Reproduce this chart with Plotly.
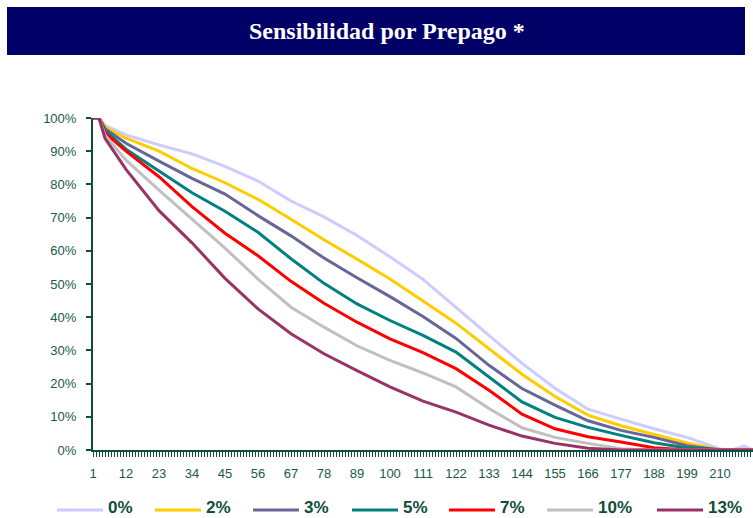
import plotly.graph_objects as go

# Payment period (month) at which each curve value is sampled
periods = [1, 3, 5, 12, 23, 34, 45, 56, 67, 78, 89, 100, 111, 122, 133,
           144, 155, 166, 177, 188, 199, 210, 214, 218, 221]

# Outstanding balance (% of original) under each prepayment speed
prepago_0 = [100, 100, 97.8, 94.9, 91.9, 89.2, 85.4, 81.0, 75.0, 70.2, 64.6, 58.2, 51.4,
             43.0, 34.5, 26.1, 18.6, 12.3, 9.3, 6.4, 3.8, 0.3, 0, 1.2, 0]
prepago_2 = [100, 100, 97.3, 93.9, 90.0, 84.8, 80.5, 75.5, 69.5, 63.3, 57.5, 51.5, 44.9,
             38.2, 30.5, 22.8, 16.1, 10.5, 7.3, 4.8, 2.1, 0, 0, 0, 0]
prepago_3 = [100, 100, 96.8, 92.4, 87.0, 81.8, 77.1, 70.6, 64.5, 57.8, 51.9, 46.2, 40.2,
             33.6, 25.5, 18.5, 13.5, 8.8, 5.9, 3.8, 1.3, 0, 0, 0, 0]
prepago_5 = [100, 100, 96.3, 90.6, 84.0, 77.5, 71.9, 65.6, 57.6, 50.2, 44.0, 39.0, 34.5,
             29.5, 22.0, 14.5, 9.8, 6.8, 4.4, 2.2, 0.6, 0, 0, 0, 0]
prepago_7 = [100, 100, 95.5, 90.0, 82.3, 73.3, 65.3, 58.5, 50.8, 44.2, 38.5, 33.5, 29.3,
             24.5, 18.0, 10.8, 6.4, 4.0, 2.4, 0.7, 0, 0, 0, 0, 0]
prepago_10 = [100, 100, 94.8, 87.3, 78.3, 69.6, 60.8, 51.5, 43.0, 37.0, 31.4, 27.0, 23.2,
              19.0, 12.5, 6.7, 3.8, 2.0, 0.4, 0, 0, 0, 0, 0, 0]
prepago_13 = [100, 100, 93.9, 84.5, 72.1, 62.4, 51.7, 42.5, 35.0, 29.0, 23.9, 19.0, 14.7,
              11.4, 7.5, 4.2, 2.0, 0.5, 0, 0, 0, 0, 0, 0, 0]

series_names = ["0%", "2%", "3%", "5%", "7%", "10%", "13%"]
series_values = [prepago_0, prepago_2, prepago_3, prepago_5, prepago_7, prepago_10, prepago_13]
series_colors = ["#CCCCFF", "#FFCC00", "#666699", "#008080", "#FF0000", "#C0C0C0", "#993366"]

x_tick_vals = [1, 12, 23, 34, 45, 56, 67, 78, 89, 100, 111, 122, 133, 144, 155,
               166, 177, 188, 199, 210, 221]
x_tick_text = ["1", "12", "23", "34", "45", "56", "67", "78", "89", "100", "111", "122",
               "133", "144", "155", "166", "177", "188", "199", "210", "221"]

title_text = "Sensibilidad por Prepago *"

W, H = 753, 518
PL, PR, PT, PB = 93, 753, 118, 450   # plot-area edges in pixels
AXIS_COLOR = "#0f4d3c"
TEXT_COLOR = "#1a5a48"


def px_x(x):
    return (x - PL) / (PR - PL)


def px_y(y):
    return (PB - y) / (PB - PT)


fig = go.Figure()
for name, vals, color in zip(series_names, series_values, series_colors):
    fig.add_trace(go.Scatter(
        x=periods, y=vals, mode="lines", name=name,
        line=dict(color=color, width=3),
        cliponaxis=False, showlegend=False,
    ))

shapes = [
    dict(type="rect", xref="paper", yref="paper",
         x0=px_x(7), x1=px_x(745), y0=px_y(55), y1=px_y(7),
         fillcolor="#000066", line=dict(width=0), layer="below"),
]
annotations = [
    dict(text="<b>%s</b>" % title_text, xref="paper", yref="paper",
         x=px_x(387), y=px_y(31), xanchor="center", yanchor="middle",
         showarrow=False,
         font=dict(family="Liberation Serif", size=24, color="white")),
]

# Legend row along the bottom
legend_starts = [57, 155, 253, 352, 449, 547, 657]
LEG_Y = 507
for name, color, x0 in zip(series_names, series_colors, legend_starts):
    shapes.append(dict(type="line", xref="paper", yref="paper",
                       x0=px_x(x0), x1=px_x(x0 + 46), y0=px_y(LEG_Y + 3), y1=px_y(LEG_Y + 3),
                       line=dict(color=color, width=3)))
    annotations.append(dict(text="<b>%s</b>" % name, xref="paper", yref="paper",
                            x=px_x(x0 + 49), y=px_y(LEG_Y), xanchor="left",
                            yanchor="middle", showarrow=False,
                            font=dict(family="Liberation Sans", size=17,
                                      color=AXIS_COLOR)))

fig.update_layout(
    width=W, height=H,
    margin=dict(l=PL, r=W - PR, t=PT, b=H - PB, pad=0),
    paper_bgcolor="white", plot_bgcolor="white",
    font=dict(family="Liberation Sans", size=13, color=TEXT_COLOR),
    shapes=shapes, annotations=annotations,
    showlegend=False,
)
fig.update_xaxes(
    range=[1, 221], tickmode="array", tickvals=x_tick_vals, ticktext=x_tick_text,
    ticks="outside", ticklen=5, tickwidth=1, tickcolor=AXIS_COLOR,
    minor=dict(ticks="outside", tickmode="linear", tick0=1, dtick=1,
               ticklen=5, tickwidth=1, tickcolor=AXIS_COLOR),
    showline=True, linecolor=AXIS_COLOR, linewidth=2,
    showgrid=False, zeroline=False, layer="below traces",
    tickfont=dict(size=13, color=TEXT_COLOR), ticklabelstandoff=5,
)
fig.update_yaxes(
    range=[0, 100], dtick=10, ticksuffix="%",
    ticks="outside", ticklen=5, tickwidth=2, tickcolor=AXIS_COLOR,
    showline=True, linecolor=AXIS_COLOR, linewidth=2,
    showgrid=False, zeroline=False, layer="below traces",
    tickfont=dict(size=13, color=TEXT_COLOR), ticklabelstandoff=7,
)

fig.write_html("out.html")
